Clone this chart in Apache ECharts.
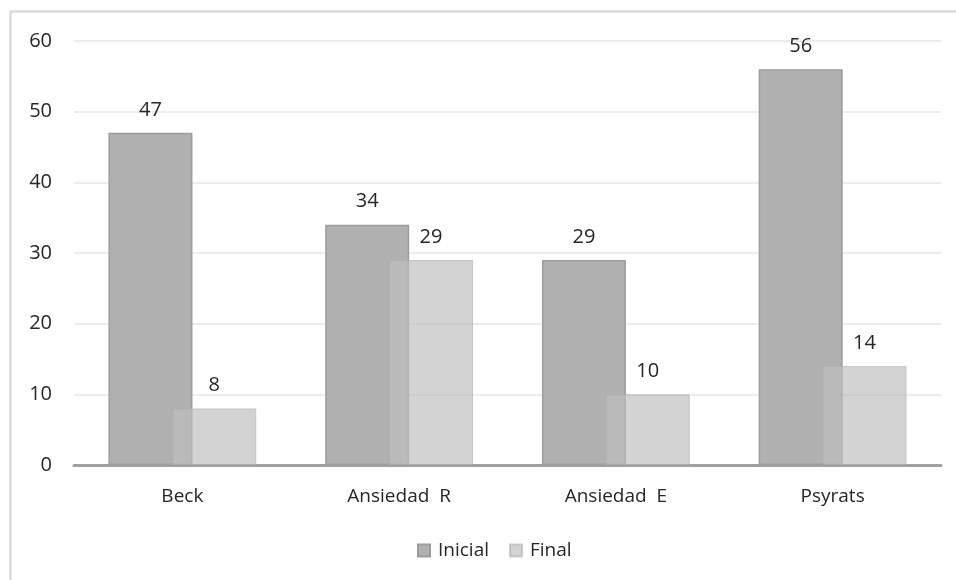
<!DOCTYPE html>
<html>
<head>
<meta charset="utf-8">
<script src="https://cdn.jsdelivr.net/npm/echarts@6/dist/echarts.min.js"></script>
<style>
  html, body { margin: 0; padding: 0; background: #ffffff; }
  #chart { width: 956px; height: 580px; }
</style>
</head>
<body>
<div id="chart"></div>
<script>
// Scores per scale, before and after treatment
const categories = ['Beck', 'Ansiedad  R', 'Ansiedad  E', 'Psyrats'];
const inicialValues = [47, 34, 29, 56];
const finalValues = [8, 29, 10, 14];
const seriesNames = ['Inicial', 'Final'];
const yTicks = { min: 0, max: 60, interval: 10 };

const FONT = '"Open Sans", "Noto Sans", sans-serif';
const TEXT = '#262626';

const chart = echarts.init(document.getElementById('chart'), null, { renderer: 'canvas' });

const labelStyle = {
  show: true,
  position: 'top',
  distance: 13,
  color: TEXT,
  fontFamily: FONT,
  fontSize: 20
};

chart.setOption({
  animation: false,
  backgroundColor: '#ffffff',
  graphic: [{
    type: 'rect',
    silent: true,
    shape: { x: 10.5, y: 11.5, width: 980, height: 620 },
    style: { fill: 'none', stroke: '#d4d4d4', lineWidth: 2 }
  }],
  grid: { left: 74, right: 15, top: 41, bottom: 115 },
  legend: {
    data: seriesNames,
    top: 536,
    left: 412,
    itemWidth: 12,
    itemHeight: 12,
    itemGap: 20,
    icon: 'rect',
    textStyle: { color: TEXT, fontFamily: FONT, fontSize: 19, padding: [0, 0, 0, 3] }
  },
  xAxis: {
    type: 'category',
    data: categories,
    axisTick: { show: false },
    axisLine: { show: true, lineStyle: { color: '#a0a0a0', width: 3 } },
    axisLabel: { color: TEXT, fontFamily: FONT, fontSize: 19, margin: 22 }
  },
  yAxis: {
    type: 'value',
    min: yTicks.min,
    max: yTicks.max,
    interval: yTicks.interval,
    axisLine: { show: false },
    axisTick: { show: false },
    axisLabel: { color: TEXT, fontFamily: FONT, fontSize: 20, margin: 22 },
    splitLine: { lineStyle: { color: '#e6e6e6', width: 1.5 } }
  },
  series: [
    {
      name: seriesNames[0],
      type: 'bar',
      data: inicialValues,
      barWidth: 84,
      barGap: '-24%',
      itemStyle: { color: '#b0b0b0', borderColor: '#9c9c9c', borderWidth: 1.5 },
      label: labelStyle
    },
    {
      name: seriesNames[1],
      type: 'bar',
      data: finalValues,
      barWidth: 84,
      barGap: '-24%',
      itemStyle: { color: 'rgba(190,190,190,0.68)', borderColor: 'rgba(175,175,175,0.6)', borderWidth: 1 },
      label: labelStyle
    }
  ]
});
</script>
</body>
</html>
